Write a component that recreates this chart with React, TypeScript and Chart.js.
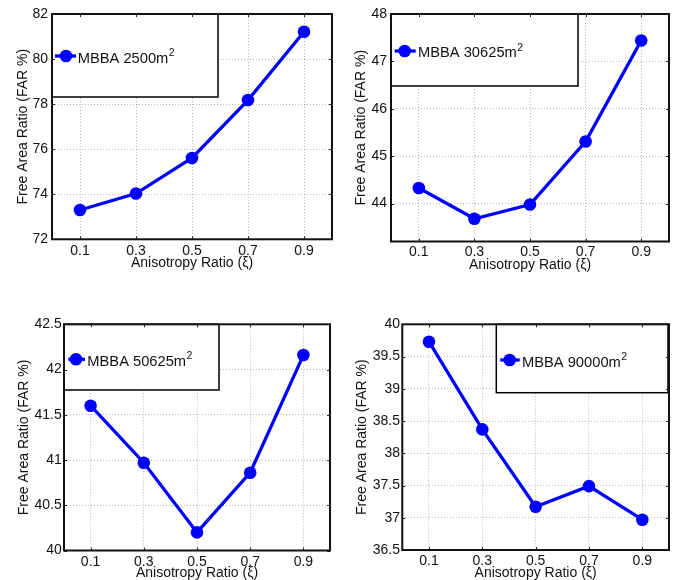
import React, { useEffect, useRef } from "react";
import { Chart, registerables } from "chart.js";

Chart.register(...registerables);

// ---------- data ----------
const xValues = [0.1, 0.3, 0.5, 0.7, 0.9];
const xTickValues = [0.1, 0.3, 0.5, 0.7, 0.9];

const far2500 = [73.3, 74.03, 75.61, 78.18, 81.21];
const far30625 = [44.33, 43.68, 43.98, 45.31, 47.44];
const far50625 = [41.6, 40.97, 40.2, 40.86, 42.16];
const far90000 = [39.73, 38.37, 37.17, 37.49, 36.97];

const yTicks2500 = [72, 74, 76, 78, 80, 82];
const yTicks30625 = [44, 45, 46, 47, 48];
const yTicks50625 = [40, 40.5, 41, 41.5, 42, 42.5];
const yTicks90000 = [36.5, 37, 37.5, 38, 38.5, 39, 39.5, 40];

const yRange2500 = [72, 82];
const yRange30625 = [43.2, 48];
const yRange50625 = [40, 42.5];
const yRange90000 = [36.5, 40];

const legendLabels = ["MBBA 2500m", "MBBA 30625m", "MBBA 50625m", "MBBA 90000m"];
const legendSup = "2";
const xTitle = "Anisotropy Ratio (\u03BE)";
const yTitle = "Free Area Ratio (FAR %)";

// ---------- layout / style ----------
const FONT = "'Liberation Sans', Arial, Helvetica, sans-serif";
const BLUE = "#0000ff";
const LH = 16.8; // 14px * 1.2

type Panel = {
  values: number[];
  yTicks: number[];
  yRange: number[];
  label: string;
  left: number;
  top: number;
  h: number;
  area: { l: number; t: number; r: number; b: number };
  yTickRight: number;
  yTitleX: number;
  xTickY: number;
  xTitleY: number;
  legend: { l: number; t: number; r: number; b: number; mx: number; my: number; lx1: number; lx2: number; tx: number; base: number };
};

const panels: Panel[] = [
  {
    values: far2500, yTicks: yTicks2500, yRange: yRange2500, label: legendLabels[0],
    left: 0, top: 0, h: 290,
    area: { l: 52, t: 14, r: 332, b: 239.3 },
    yTickRight: 48, yTitleX: 23, xTickY: 251, xTitleY: 263,
    legend: { l: 52, t: 14, r: 218, b: 97, mx: 66, my: 56, lx1: 55, lx2: 76, tx: 77.7, base: 6.7 },
  },
  {
    values: far30625, yTicks: yTicks30625, yRange: yRange30625, label: legendLabels[1],
    left: 343, top: 0, h: 290,
    area: { l: 391, t: 14, r: 669, b: 241.5 },
    yTickRight: 387, yTitleX: 361, xTickY: 252.5, xTitleY: 265,
    legend: { l: 391, t: 14, r: 578, b: 86, mx: 404.7, my: 51, lx1: 394.7, lx2: 415.7, tx: 418, base: 6.3 },
  },
  {
    values: far50625, yTicks: yTicks50625, yRange: yRange50625, label: legendLabels[2],
    left: 0, top: 290, h: 300,
    area: { l: 64, t: 324.3, r: 330, b: 550.5 },
    yTickRight: 61.7, yTitleX: 24, xTickY: 562, xTitleY: 573.5,
    legend: { l: 64, t: 324.3, r: 219, b: 390, mx: 76, my: 359.3, lx1: 68.3, lx2: 85, tx: 87.3, base: 6.5 },
  },
  {
    values: far90000, yTicks: yTicks90000, yRange: yRange90000, label: legendLabels[3],
    left: 343, top: 290, h: 300,
    area: { l: 402.3, t: 324.3, r: 669, b: 550 },
    yTickRight: 400, yTitleX: 362, xTickY: 561, xTitleY: 573.5,
    legend: { l: 496.3, t: 324.3, r: 668, b: 392.7, mx: 509.7, my: 360, lx1: 500.3, lx2: 519.7, tx: 522, base: 6.5 },
  },
];

const framePlugin = {
  id: "matlabFrame",
  afterDatasetsDraw(chart: any, _args: any, opts: any) {
    const { ctx, chartArea: a } = chart;
    const xs = chart.scales.x;
    const ys = chart.scales.y;
    const lg = opts.legend;
    ctx.save();
    // legend box
    ctx.fillStyle = "#ffffff";
    ctx.fillRect(lg.l, lg.t, lg.r - lg.l, lg.b - lg.t);
    ctx.strokeStyle = "#000";
    ctx.lineWidth = 1.5;
    ctx.strokeRect(lg.l, lg.t, lg.r - lg.l, lg.b - lg.t);
    // legend sample
    ctx.strokeStyle = BLUE;
    ctx.lineWidth = 3.3;
    ctx.beginPath();
    ctx.moveTo(lg.lx1, lg.my);
    ctx.lineTo(lg.lx2, lg.my);
    ctx.stroke();
    ctx.fillStyle = BLUE;
    ctx.beginPath();
    ctx.arc(lg.mx, lg.my, 6.3, 0, Math.PI * 2);
    ctx.fill();
    // legend text
    ctx.fillStyle = "#111";
    ctx.textBaseline = "alphabetic";
    ctx.textAlign = "left";
    ctx.font = `14.7px ${FONT}`;
    ctx.fillText(opts.label, lg.tx, lg.my + lg.base);
    const w = ctx.measureText(opts.label).width;
    ctx.font = `10.5px ${FONT}`;
    ctx.fillText(legendSup, lg.tx + w + 0.5, lg.my);
    // inward ticks
    ctx.strokeStyle = "#222";
    ctx.lineWidth = 1;
    const tl = 3;
    xs.ticks.forEach((t: any) => {
      const px = Math.round(xs.getPixelForValue(t.value)) + 0.5;
      ctx.beginPath();
      ctx.moveTo(px, a.bottom);
      ctx.lineTo(px, a.bottom - tl);
      ctx.moveTo(px, a.top);
      ctx.lineTo(px, a.top + tl);
      ctx.stroke();
    });
    ys.ticks.forEach((t: any) => {
      const py = Math.round(ys.getPixelForValue(t.value)) + 0.5;
      ctx.beginPath();
      ctx.moveTo(a.left, py);
      ctx.lineTo(a.left + tl, py);
      ctx.moveTo(a.right, py);
      ctx.lineTo(a.right - tl, py);
      ctx.stroke();
    });
    // axes box
    ctx.strokeStyle = "#111";
    ctx.lineWidth = 2;
    ctx.strokeRect(a.left, a.top, a.right - a.left, a.bottom - a.top);
    ctx.restore();
  },
};

function PanelChart({ p }: { p: Panel }) {
  const ref = useRef<HTMLCanvasElement | null>(null);
  useEffect(() => {
    if (!ref.current) return;
    const W = 343;
    const areaL = p.area.l - p.left;
    const areaT = p.area.t - p.top;
    const areaR = p.area.r - p.left;
    const areaB = p.area.b - p.top;
    const lg = {
      l: p.legend.l - p.left, t: p.legend.t - p.top, r: p.legend.r - p.left, b: p.legend.b - p.top,
      mx: p.legend.mx - p.left, my: p.legend.my - p.top,
      lx1: p.legend.lx1 - p.left, lx2: p.legend.lx2 - p.left, tx: p.legend.tx - p.left,
      base: p.legend.base,
    };
    const gridOpts = { color: "rgba(0,0,0,0.28)", lineWidth: 1, drawTicks: false };
    const chart = new Chart(ref.current, {
      type: "line",
      data: {
        datasets: [
          {
            data: xValues.map((x, i) => ({ x, y: p.values[i] })),
            borderColor: BLUE,
            backgroundColor: BLUE,
            borderWidth: 3.3,
            pointRadius: 6.3,
            pointBackgroundColor: BLUE,
            pointBorderWidth: 0,
            pointHoverRadius: 6.3,
            tension: 0,
            clip: false,
          } as any,
        ],
      },
      options: {
        animation: false,
        responsive: false,
        maintainAspectRatio: false,
        events: [],
        layout: { padding: { left: 0, top: areaT, right: W - areaR, bottom: 0 } },
        plugins: {
          legend: { display: false },
          tooltip: { enabled: false },
          matlabFrame: { legend: lg, label: p.label },
        } as any,
        scales: {
          x: {
            type: "linear",
            min: 0,
            max: 1,
            afterBuildTicks: (s: any) => {
              s.ticks = xTickValues.map((v) => ({ value: v }));
            },
            afterFit: (s: any) => {
              s.height = p.h - areaB;
            },
            grid: gridOpts,
            border: { display: false, dash: [1, 2] },
            ticks: {
              padding: p.xTickY - p.area.b - LH / 2,
              color: "#111",
              font: { family: FONT, size: 14 },
              maxRotation: 0,
              callback: (v: any) => String(v),
            },
            title: {
              display: true,
              text: xTitle,
              color: "#111",
              font: { family: FONT, size: 14 },
              padding: { top: 0, bottom: p.top + p.h - p.xTitleY - LH / 2 },
            },
          },
          y: {
            type: "linear",
            min: p.yRange[0],
            max: p.yRange[1],
            afterBuildTicks: (s: any) => {
              s.ticks = p.yTicks.map((v) => ({ value: v }));
            },
            afterFit: (s: any) => {
              s.width = areaL;
            },
            grid: gridOpts,
            border: { display: false, dash: [1, 2] },
            ticks: {
              padding: p.area.l - p.yTickRight,
              color: "#111",
              font: { family: FONT, size: 14 },
              callback: (v: any) => String(v),
            },
            title: {
              display: true,
              text: yTitle,
              color: "#111",
              font: { family: FONT, size: 14 },
              padding: { top: p.yTitleX - p.left - LH / 2, bottom: 0 },
            },
          },
        },
      } as any,
      plugins: [framePlugin as any],
    });
    return () => chart.destroy();
  }, [p]);
  return (
    <canvas
      ref={ref}
      width={343}
      height={p.h}
      style={{ position: "absolute", left: p.left, top: p.top, width: 343, height: p.h }}
    />
  );
}

export default function App() {
  return (
    <div
      style={{
        position: "fixed",
        left: 0,
        top: 0,
        width: 686,
        height: 580,
        overflow: "hidden",
        background: "#ffffff",
      }}
    >
      {panels.map((p, i) => (
        <PanelChart key={i} p={p} />
      ))}
    </div>
  );
}
